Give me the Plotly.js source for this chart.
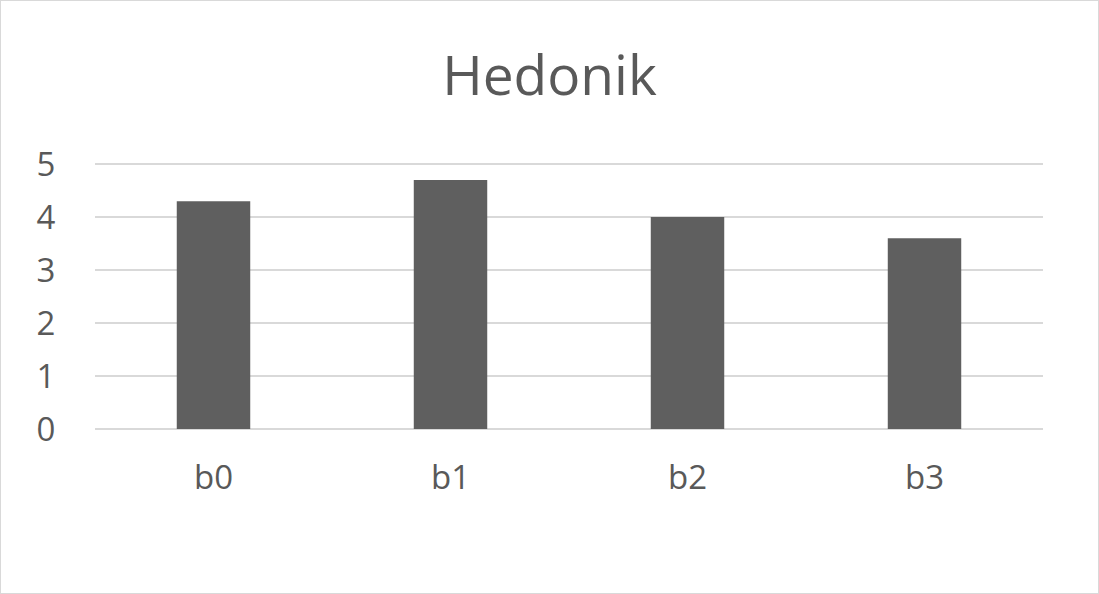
<!DOCTYPE html>
<html>
<head>
<meta charset="utf-8">
<script src="https://cdn.plot.ly/plotly-3.0.1.min.js"></script>
<style>
html,body{margin:0;padding:0;background:#fff;}
#chart{width:1097px;height:592px;border:1px solid #d9d9d9;}
</style>
</head>
<body>
<div id="chart"></div>
<script>
const chartTitle = 'Hedonik';
const categories = ['b0', 'b1', 'b2', 'b3'];
const values = [4.3, 4.7, 4.0, 3.6];
const yTicks = [0, 1, 2, 3, 4, 5];

const trace = {
  type: 'bar',
  x: categories,
  y: values,
  marker: {color: '#5f5f5f'},
  hoverinfo: 'x+y'
};

const layout = {
  width: 1097,
  height: 592,
  margin: {l: 94, r: 55, t: 161, b: 164},
  paper_bgcolor: '#ffffff',
  plot_bgcolor: '#ffffff',
  bargap: 0.69,
  showlegend: false,
  font: {family: 'Open Sans, sans-serif', color: '#595959'},
  title: {
    text: chartTitle,
    font: {size: 55, color: '#595959', family: 'Open Sans, sans-serif'},
    x: 0.5, xanchor: 'center',
    y: 1 - 75/592, yref: 'container', yanchor: 'middle'
  },
  xaxis: {
    type: 'category',
    showgrid: false,
    showline: false,
    zeroline: false,
    ticks: 'outside', ticklen: 19, tickcolor: 'rgba(0,0,0,0)',
    tickfont: {size: 33, color: '#595959'}
  },
  yaxis: {
    range: [0, 5.04],
    tickvals: yTicks,
    showgrid: true,
    gridcolor: '#d9d9d9',
    gridwidth: 2,
    zeroline: true,
    zerolinecolor: '#d9d9d9',
    zerolinewidth: 2,
    showline: false,
    ticks: 'outside', ticklen: 32, tickcolor: 'rgba(0,0,0,0)',
    tickfont: {size: 33, color: '#595959'}
  }
};

Plotly.newPlot('chart', [trace], layout, {displayModeBar: false, staticPlot: true});
</script>
</body>
</html>
